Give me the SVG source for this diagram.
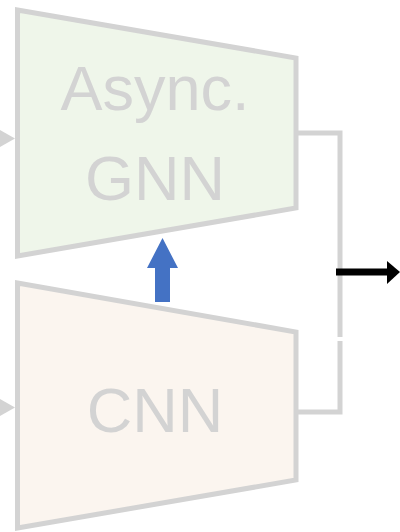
<svg xmlns="http://www.w3.org/2000/svg" width="400" height="532" viewBox="0 0 400 532">
<style>
.blk{stroke:#d3d3d3;stroke-width:5;stroke-linejoin:miter}
.lbl{font-family:"Liberation Sans",Arial,sans-serif;font-size:63px;fill:#d3d3d3;text-anchor:middle}
.conn{fill:none;stroke:#d3d3d3;stroke-width:5}
</style>
<g id="connectors">
<path class="conn" d="M296 133 H340 V337"/>
<path class="conn" d="M296 412 H340 V341"/>
<polygon points="0,130 15,138.5 0,147" fill="#d3d3d3"/>
<polygon points="0,399 15,407.5 0,416" fill="#d3d3d3"/>
<line x1="336" y1="272" x2="389" y2="272" stroke="#000" stroke-width="7"/>
<polygon points="387,261 400,272 387,284" fill="#000"/>
<polygon points="155,302 155,268 147,268 162.5,238 178,268 170,268 170,302" fill="#4472C4"/>
</g>
<g id="async-gnn">
<polygon class="blk" points="17.5,10 296,58 296,208 17.5,256" fill="#EFF6EA"/>
<text class="lbl" x="155" y="110">Async.</text>
<text class="lbl" x="155" y="200">GNN</text>
</g>
<g id="cnn">
<polygon class="blk" points="17.5,283 296,332 296,480 17.5,528" fill="#FBF5EF"/>
<text class="lbl" x="155" y="432">CNN</text>
</g>
</svg>
